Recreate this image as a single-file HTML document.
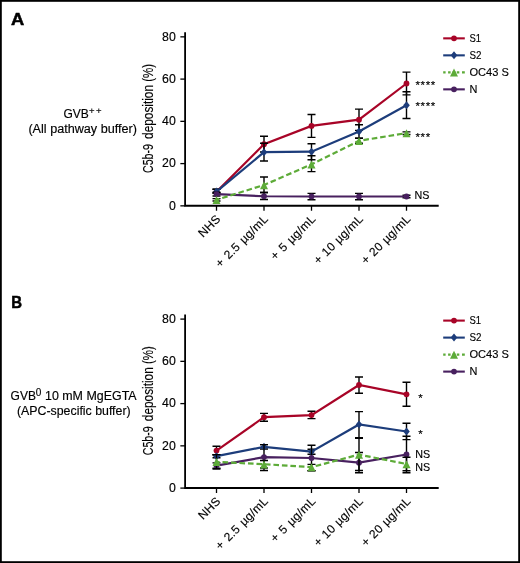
<!DOCTYPE html>
<html lang="en">
<head>
<meta charset="utf-8">
<title>C5b-9 deposition</title>
<style>
html,body{margin:0;padding:0;background:#fff;}
body{width:520px;height:563px;overflow:hidden;}
svg{display:block;}
text{font-family:"Liberation Sans",sans-serif;fill:#000;stroke:#000;stroke-width:0.15px;}
.pl{font-weight:bold;font-size:16.8px;stroke-width:0.5px;}
.tk{font-size:12.3px;}
.xl{font-size:12px;letter-spacing:0.2px;word-spacing:1.2px;}
.yl{font-size:15.3px;}
.lg{font-size:11.5px;}
.lb{font-size:12px;}
.sup{font-size:9.5px;}
.st{font-size:11.5px;letter-spacing:0.6px;}
.ns{font-size:11.5px;}
.ax{stroke:#000;stroke-width:1.8;fill:none;}
.tkm{stroke:#000;stroke-width:1.3;fill:none;}
.eb{stroke:#000;stroke-width:1.4;fill:none;}
</style>
</head>
<body>
<svg width="520" height="563" viewBox="0 0 520 563">
<rect x="0" y="0" width="520" height="563" fill="#fff"/>
<g>
<text transform="translate(11.1,25.4) scale(1.09,1)" class="pl">A</text>
<text class="lb" x="63.4" y="118">GVB</text>
<text class="sup" x="89" y="114.2" textLength="12.6" lengthAdjust="spacing">++</text>
<text class="lb" x="28.4" y="132.8" textLength="108.6" lengthAdjust="spacingAndGlyphs">(All pathway buffer)</text>
<text class="yl" transform="translate(153.4,172.95) rotate(-90)" textLength="28.9" lengthAdjust="spacingAndGlyphs">C5b-9</text>
<text class="yl" transform="translate(153.4,138.95) rotate(-90)" textLength="54.0" lengthAdjust="spacingAndGlyphs">deposition</text>
<text class="yl" transform="translate(153.4,81.85) rotate(-90)" textLength="17.8" lengthAdjust="spacingAndGlyphs">(%)</text>
<path class="eb" d="M216.5 189.20V193.00M212.50 189.20h8M212.50 193.00h8"/>
<path class="eb" d="M264.0 136.20V152.00M260.00 136.20h8M260.00 152.00h8"/>
<path class="eb" d="M311.5 114.50V137.40M307.50 114.50h8M307.50 137.40h8"/>
<path class="eb" d="M359.0 109.10V130.40M355.00 109.10h8M355.00 130.40h8"/>
<path class="eb" d="M406.5 72.10V94.90M402.50 72.10h8M402.50 94.90h8"/>
<polyline points="216.5,191.80 264.0,144.20 311.5,125.90 359.0,119.70 406.5,83.50" fill="none" stroke="#a80427" stroke-width="2.2"/>
<circle cx="216.5" cy="191.80" r="2.9" fill="#a80427"/>
<circle cx="264.0" cy="144.20" r="2.9" fill="#a80427"/>
<circle cx="311.5" cy="125.90" r="2.9" fill="#a80427"/>
<circle cx="359.0" cy="119.70" r="2.9" fill="#a80427"/>
<circle cx="406.5" cy="83.50" r="2.9" fill="#a80427"/>
<path class="eb" d="M216.5 189.20V193.20M212.50 189.20h8M212.50 193.20h8"/>
<path class="eb" d="M264.0 143.20V161.00M260.00 143.20h8M260.00 161.00h8"/>
<path class="eb" d="M311.5 143.70V159.70M307.50 143.70h8M307.50 159.70h8"/>
<path class="eb" d="M359.0 124.80V138.30M355.00 124.80h8M355.00 138.30h8"/>
<path class="eb" d="M406.5 91.70V118.50M402.50 91.70h8M402.50 118.50h8"/>
<polyline points="216.5,191.60 264.0,152.20 311.5,151.70 359.0,131.50 406.5,105.20" fill="none" stroke="#1d3d7b" stroke-width="2.2"/>
<path d="M216.5 187.60l3.3 4l-3.3 4l-3.3 -4z" fill="#1d3d7b"/>
<path d="M264.0 148.20l3.3 4l-3.3 4l-3.3 -4z" fill="#1d3d7b"/>
<path d="M311.5 147.70l3.3 4l-3.3 4l-3.3 -4z" fill="#1d3d7b"/>
<path d="M359.0 127.50l3.3 4l-3.3 4l-3.3 -4z" fill="#1d3d7b"/>
<path d="M406.5 101.20l3.3 4l-3.3 4l-3.3 -4z" fill="#1d3d7b"/>
<path class="eb" d="M216.5 192.20V196.00M212.50 192.20h8M212.50 196.00h8"/>
<path class="eb" d="M264.0 192.50V199.50M260.00 192.50h8M260.00 199.50h8"/>
<path class="eb" d="M311.5 193.40V199.80M307.50 193.40h8M307.50 199.80h8"/>
<path class="eb" d="M359.0 193.40V199.80M355.00 193.40h8M355.00 199.80h8"/>
<path class="eb" d="M406.5 195.30V197.70M402.50 195.30h8M402.50 197.70h8"/>
<polyline points="216.5,194.10 264.0,196.25 311.5,196.50 359.0,196.50 406.5,196.50" fill="none" stroke="#48205f" stroke-width="2.2"/>
<circle cx="216.5" cy="194.10" r="2.9" fill="#48205f"/>
<circle cx="264.0" cy="196.25" r="2.9" fill="#48205f"/>
<circle cx="311.5" cy="196.50" r="2.9" fill="#48205f"/>
<circle cx="359.0" cy="196.50" r="2.9" fill="#48205f"/>
<circle cx="406.5" cy="196.50" r="2.9" fill="#48205f"/>
<path class="eb" d="M216.5 198.60V201.00M212.50 198.60h8M212.50 201.00h8"/>
<path class="eb" d="M264.0 177.00V192.50M260.00 177.00h8M260.00 192.50h8"/>
<path class="eb" d="M311.5 155.80V171.60M307.50 155.80h8M307.50 171.60h8"/>
<path class="eb" d="M359.0 138.30V143.30M355.00 138.30h8M355.00 143.30h8"/>
<path class="eb" d="M406.5 131.90V134.50M402.50 131.90h8M402.50 134.50h8"/>
<polyline points="216.5,199.80 264.0,185.00 311.5,164.40 359.0,140.80 406.5,133.10" fill="none" stroke="#5dab38" stroke-width="2.2" stroke-dasharray="5.6 2.9" stroke-dashoffset="2.5"/>
<path d="M216.5 196.00l4 8h-8z" fill="#5dab38"/>
<path d="M264.0 181.20l4 8h-8z" fill="#5dab38"/>
<path d="M311.5 160.60l4 8h-8z" fill="#5dab38"/>
<path d="M359.0 137.00l4 8h-8z" fill="#5dab38"/>
<path d="M406.5 129.30l4 8h-8z" fill="#5dab38"/>
<path class="ax" d="M185.1 32.35V206.65M184.2 205.75H438.7"/>
<path class="tkm" d="M180.35 205.85h4.9"/>
<text class="tk" x="175.8" y="209.50" text-anchor="end">0</text>
<path class="tkm" d="M180.35 163.60h4.9"/>
<text class="tk" x="175.8" y="167.25" text-anchor="end">20</text>
<path class="tkm" d="M180.35 121.35h4.9"/>
<text class="tk" x="175.8" y="125.00" text-anchor="end">40</text>
<path class="tkm" d="M180.35 79.10h4.9"/>
<text class="tk" x="175.8" y="82.75" text-anchor="end">60</text>
<path class="tkm" d="M180.35 36.85h4.9"/>
<text class="tk" x="175.8" y="40.50" text-anchor="end">80</text>
<path class="tkm" d="M216.5 205.75v5"/>
<text class="xl" transform="translate(221.3,219.75) rotate(-45)" text-anchor="end">NHS</text>
<path class="tkm" d="M264.0 205.75v5"/>
<text class="xl" transform="translate(268.8,219.75) rotate(-45)" text-anchor="end">+ 2.5 µg/mL</text>
<path class="tkm" d="M311.5 205.75v5"/>
<text class="xl" transform="translate(316.3,219.75) rotate(-45)" text-anchor="end">+ 5 µg/mL</text>
<path class="tkm" d="M359.0 205.75v5"/>
<text class="xl" style="word-spacing:0.7px" transform="translate(363.8,219.75) rotate(-45)" text-anchor="end">+ 10 µg/mL</text>
<path class="tkm" d="M406.5 205.75v5"/>
<text class="xl" style="word-spacing:0.7px" transform="translate(411.3,219.75) rotate(-45)" text-anchor="end">+ 20 µg/mL</text>
<text class="st" x="415.5" y="89.3">****</text>
<text class="st" x="415.5" y="110.1">****</text>
<text class="st" x="415.5" y="140.9">***</text>
<text class="ns" x="414.5" y="198.8" textLength="14.9" lengthAdjust="spacingAndGlyphs">NS</text>
<path d="M443.2 38.35H464.8" stroke="#a80427" stroke-width="2.1" fill="none"/>
<circle cx="454" cy="38.35" r="2.9" fill="#a80427"/>
<text class="lg" x="469.5" y="41.90" textLength="11.6" lengthAdjust="spacingAndGlyphs">S1</text>
<path d="M443.2 55.35H464.8" stroke="#1d3d7b" stroke-width="2.1" fill="none"/>
<path d="M454 51.35l3.3 4l-3.3 4l-3.3 -4z" fill="#1d3d7b"/>
<text class="lg" x="469.5" y="58.90" textLength="12.0" lengthAdjust="spacingAndGlyphs">S2</text>
<path d="M443.2 72.35H464.8" stroke="#5dab38" stroke-width="2.1" fill="none" stroke-dasharray="2.4 2.5 2.5 1.9 3 1.3 2.5 2.7 2.8"/>
<path d="M454 68.55l4 8h-8z" fill="#5dab38"/>
<text class="lg" x="469.5" y="75.90" textLength="39.4" lengthAdjust="spacingAndGlyphs">OC43 S</text>
<path d="M443.2 89.35H464.8" stroke="#48205f" stroke-width="2.1" fill="none"/>
<circle cx="454" cy="89.35" r="2.9" fill="#48205f"/>
<text class="lg" x="469.5" y="92.90" textLength="7.9" lengthAdjust="spacingAndGlyphs">N</text>
</g>
<g>
<text transform="translate(11.3,308.2) scale(0.89,1)" class="pl">B</text>
<text class="lb" x="10.6" y="399.9">GVB</text>
<text class="sup" x="35.7" y="395.9" style="font-size:10px">0</text>
<text class="lb" x="45" y="399.9" textLength="91.6" lengthAdjust="spacingAndGlyphs">10 mM MgEGTA</text>
<text class="lb" x="17" y="414.7" textLength="113.6" lengthAdjust="spacingAndGlyphs">(APC-specific buffer)</text>
<text class="yl" transform="translate(153.4,455.20) rotate(-90)" textLength="28.9" lengthAdjust="spacingAndGlyphs">C5b-9</text>
<text class="yl" transform="translate(153.4,421.20) rotate(-90)" textLength="54.0" lengthAdjust="spacingAndGlyphs">deposition</text>
<text class="yl" transform="translate(153.4,364.10) rotate(-90)" textLength="17.8" lengthAdjust="spacingAndGlyphs">(%)</text>
<path class="eb" d="M216.5 446.20V455.00M212.50 446.20h8M212.50 455.00h8"/>
<path class="eb" d="M264.0 413.40V421.20M260.00 413.40h8M260.00 421.20h8"/>
<path class="eb" d="M311.5 411.30V418.60M307.50 411.30h8M307.50 418.60h8"/>
<path class="eb" d="M359.0 377.00V393.20M355.00 377.00h8M355.00 393.20h8"/>
<path class="eb" d="M406.5 382.20V406.20M402.50 382.20h8M402.50 406.20h8"/>
<polyline points="216.5,450.60 264.0,417.20 311.5,415.10 359.0,385.00 406.5,394.30" fill="none" stroke="#a80427" stroke-width="2.2"/>
<circle cx="216.5" cy="450.60" r="2.9" fill="#a80427"/>
<circle cx="264.0" cy="417.20" r="2.9" fill="#a80427"/>
<circle cx="311.5" cy="415.10" r="2.9" fill="#a80427"/>
<circle cx="359.0" cy="385.00" r="2.9" fill="#a80427"/>
<circle cx="406.5" cy="394.30" r="2.9" fill="#a80427"/>
<path class="eb" d="M216.5 454.60V457.80M212.50 454.60h8M212.50 457.80h8"/>
<path class="eb" d="M264.0 444.60V449.00M260.00 444.60h8M260.00 449.00h8"/>
<path class="eb" d="M311.5 449.20V454.20M307.50 449.20h8M307.50 454.20h8"/>
<path class="eb" d="M359.0 411.60V437.60M355.00 411.60h8M355.00 437.60h8"/>
<path class="eb" d="M406.5 423.20V439.60M402.50 423.20h8M402.50 439.60h8"/>
<polyline points="216.5,456.20 264.0,446.80 311.5,451.70 359.0,424.50 406.5,431.50" fill="none" stroke="#1d3d7b" stroke-width="2.2"/>
<path d="M216.5 452.20l3.3 4l-3.3 4l-3.3 -4z" fill="#1d3d7b"/>
<path d="M264.0 442.80l3.3 4l-3.3 4l-3.3 -4z" fill="#1d3d7b"/>
<path d="M311.5 447.70l3.3 4l-3.3 4l-3.3 -4z" fill="#1d3d7b"/>
<path d="M359.0 420.50l3.3 4l-3.3 4l-3.3 -4z" fill="#1d3d7b"/>
<path d="M406.5 427.50l3.3 4l-3.3 4l-3.3 -4z" fill="#1d3d7b"/>
<path class="eb" d="M216.5 462.90V468.30M212.50 462.90h8M212.50 468.30h8"/>
<path class="eb" d="M264.0 444.60V470.50M260.00 444.60h8M260.00 470.50h8"/>
<path class="eb" d="M311.5 445.30V470.70M307.50 445.30h8M307.50 470.70h8"/>
<path class="eb" d="M359.0 452.50V472.70M355.00 452.50h8M355.00 472.70h8"/>
<path class="eb" d="M406.5 436.30V472.70M402.50 436.30h8M402.50 472.70h8"/>
<polyline points="216.5,465.60 264.0,457.10 311.5,458.00 359.0,462.70 406.5,454.50" fill="none" stroke="#48205f" stroke-width="2.2"/>
<circle cx="216.5" cy="465.60" r="2.9" fill="#48205f"/>
<circle cx="264.0" cy="457.10" r="2.9" fill="#48205f"/>
<circle cx="311.5" cy="458.00" r="2.9" fill="#48205f"/>
<circle cx="359.0" cy="462.70" r="2.9" fill="#48205f"/>
<circle cx="406.5" cy="454.50" r="2.9" fill="#48205f"/>
<path class="eb" d="M216.5 454.60V469.00M212.50 454.60h8M212.50 469.00h8"/>
<path class="eb" d="M264.0 460.50V468.00M260.00 460.50h8M260.00 468.00h8"/>
<path class="eb" d="M311.5 464.40V470.60M307.50 464.40h8M307.50 470.60h8"/>
<path class="eb" d="M359.0 438.30V470.50M355.00 438.30h8M355.00 470.50h8"/>
<path class="eb" d="M406.5 457.30V470.80M402.50 457.30h8M402.50 470.80h8"/>
<polyline points="216.5,461.90 264.0,464.20 311.5,467.10 359.0,454.60 406.5,464.00" fill="none" stroke="#5dab38" stroke-width="2.2" stroke-dasharray="5.6 2.9" stroke-dashoffset="2.5"/>
<path d="M216.5 458.10l4 8h-8z" fill="#5dab38"/>
<path d="M264.0 460.40l4 8h-8z" fill="#5dab38"/>
<path d="M311.5 463.30l4 8h-8z" fill="#5dab38"/>
<path d="M359.0 450.80l4 8h-8z" fill="#5dab38"/>
<path d="M406.5 460.20l4 8h-8z" fill="#5dab38"/>
<path class="ax" d="M185.1 314.60V488.90M184.2 488.0H438.7"/>
<path class="tkm" d="M180.35 488.10h4.9"/>
<text class="tk" x="175.8" y="491.75" text-anchor="end">0</text>
<path class="tkm" d="M180.35 445.85h4.9"/>
<text class="tk" x="175.8" y="449.50" text-anchor="end">20</text>
<path class="tkm" d="M180.35 403.60h4.9"/>
<text class="tk" x="175.8" y="407.25" text-anchor="end">40</text>
<path class="tkm" d="M180.35 361.35h4.9"/>
<text class="tk" x="175.8" y="365.00" text-anchor="end">60</text>
<path class="tkm" d="M180.35 319.10h4.9"/>
<text class="tk" x="175.8" y="322.75" text-anchor="end">80</text>
<path class="tkm" d="M216.5 488.0v5"/>
<text class="xl" transform="translate(221.3,502.0) rotate(-45)" text-anchor="end">NHS</text>
<path class="tkm" d="M264.0 488.0v5"/>
<text class="xl" transform="translate(268.8,502.0) rotate(-45)" text-anchor="end">+ 2.5 µg/mL</text>
<path class="tkm" d="M311.5 488.0v5"/>
<text class="xl" transform="translate(316.3,502.0) rotate(-45)" text-anchor="end">+ 5 µg/mL</text>
<path class="tkm" d="M359.0 488.0v5"/>
<text class="xl" style="word-spacing:0.7px" transform="translate(363.8,502.0) rotate(-45)" text-anchor="end">+ 10 µg/mL</text>
<path class="tkm" d="M406.5 488.0v5"/>
<text class="xl" style="word-spacing:0.7px" transform="translate(411.3,502.0) rotate(-45)" text-anchor="end">+ 20 µg/mL</text>
<text class="st" x="418.2" y="402.2">*</text>
<text class="st" x="418.2" y="438">*</text>
<text class="ns" x="415.3" y="457.5" textLength="14.9" lengthAdjust="spacingAndGlyphs">NS</text>
<text class="ns" x="415.3" y="470.6" textLength="14.9" lengthAdjust="spacingAndGlyphs">NS</text>
<path d="M443.2 320.60H464.8" stroke="#a80427" stroke-width="2.1" fill="none"/>
<circle cx="454" cy="320.60" r="2.9" fill="#a80427"/>
<text class="lg" x="469.5" y="324.15" textLength="11.6" lengthAdjust="spacingAndGlyphs">S1</text>
<path d="M443.2 337.60H464.8" stroke="#1d3d7b" stroke-width="2.1" fill="none"/>
<path d="M454 333.60l3.3 4l-3.3 4l-3.3 -4z" fill="#1d3d7b"/>
<text class="lg" x="469.5" y="341.15" textLength="12.0" lengthAdjust="spacingAndGlyphs">S2</text>
<path d="M443.2 354.60H464.8" stroke="#5dab38" stroke-width="2.1" fill="none" stroke-dasharray="2.4 2.5 2.5 1.9 3 1.3 2.5 2.7 2.8"/>
<path d="M454 350.80l4 8h-8z" fill="#5dab38"/>
<text class="lg" x="469.5" y="358.15" textLength="39.4" lengthAdjust="spacingAndGlyphs">OC43 S</text>
<path d="M443.2 371.60H464.8" stroke="#48205f" stroke-width="2.1" fill="none"/>
<circle cx="454" cy="371.60" r="2.9" fill="#48205f"/>
<text class="lg" x="469.5" y="375.15" textLength="7.9" lengthAdjust="spacingAndGlyphs">N</text>
</g>
<rect x="0.9" y="0.9" width="518.2" height="561.2" fill="none" stroke="#000" stroke-width="1.8"/>
</svg>
</body>
</html>
